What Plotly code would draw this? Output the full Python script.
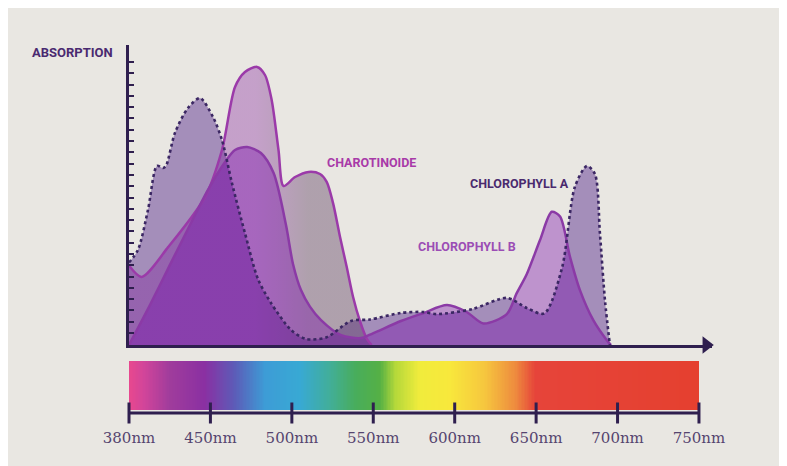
import numpy as np
import plotly.graph_objects as go

# ---------------- data ----------------
tick_nm = [380, 450, 500, 550, 600, 650, 700, 750]
tick_labels = ["380nm", "450nm", "500nm", "550nm", "600nm", "650nm", "700nm", "750nm"]

chl_a_nm = [380, 387.7, 396.3, 404.1, 409.2, 411.8, 419.5, 430.7, 441, 451.6, 457.1, 463.2,
            471.2, 479.2, 487.2, 499.5, 508.7, 521, 536.3, 548, 567, 580.5, 589.1, 611, 632,
            644.4, 655, 665.9, 673.8, 681.2, 686.1, 689.2, 692.3, 695.3]
chl_a_val = [27.5, 31.7, 45, 59.7, 59, 59.7, 70.7, 79, 82.3, 76, 68.3, 54,
             37.3, 22, 14, 5, 2, 2.5, 8, 8.5, 10.7, 11, 10.3, 12, 15.7,
             12.3, 10.5, 25.7, 52.7, 59.7, 57, 37, 14.7, 0]

carot_nm = [380, 390.9, 413.8, 445.3, 457.1, 465.1, 471.2, 478.6, 483.5, 487.6, 491.8, 494.9,
            502, 510.3, 517.3, 521.4, 525.3, 529.6, 533.7, 537.6, 541.8, 546.1, 549]
carot_val = [26.5, 22.7, 32.7, 49.3, 65, 86, 91, 92.7, 90, 81.7, 65, 53,
             56, 57.7, 57, 54.4, 47.3, 36, 26, 16, 8, 2, 0]

chl_b_nm = [380, 398, 415.2, 432.4, 447.9, 459, 465.1, 472.5, 481, 488.8, 496.4, 500.7,
            505.6, 511.1, 517.9, 530.2, 542.4, 549.8, 567, 580.5, 595.3, 607.3, 617.6, 632,
            638, 644.3, 652.4, 659.6, 664.7, 670.8, 676.9, 685.1, 693.3, 696]
chl_b_val = [0, 13.3, 26.7, 40, 51.7, 61, 65, 66, 64, 57.3, 40, 27,
             18.3, 12.8, 8.3, 3.3, 2.3, 3.9, 8, 10.6, 13.3, 11, 7.2, 10.3,
             17.2, 23.7, 35, 44.4, 42.8, 29.4, 18.3, 8.3, 1.7, 0]

spectrum_nm = [380, 392.6, 415, 445, 465, 483.5, 505, 523.5, 539, 554, 563.5, 578.5,
               597, 618.5, 637, 649.5, 750]
spectrum_colors = ["#e8488e", "#d2459a", "#a03c9c", "#8a30a2", "#5c5cb8", "#3d9cd6",
                   "#38a9d4", "#42ae98", "#48ad5c", "#55b045", "#b4d83a", "#f1ec3c",
                   "#f8e83c", "#f6c63e", "#ee8c3e", "#e6443a", "#e5402f"]

series_labels = ["ABSORPTION", "CHAROTINOIDE", "CHLOROPHYLL A", "CHLOROPHYLL B"]

# ---------------- helpers ----------------
tick_pos = list(range(len(tick_nm)))


def to_pos(nm):
    return np.interp(np.asarray(nm, dtype=float), tick_nm, tick_pos)


BG = "#e9e7e2"
AXIS = "#2f1f4f"
LABEL_FONT = "Roboto, Inter, sans-serif"

fig = go.Figure()

# spectrum bar
edges = np.linspace(0, 7, 401)
mids = (edges[:-1] + edges[1:]) / 2
stop_pos = to_pos(spectrum_nm) / 7.0
colorscale = [[float(p), c] for p, c in zip(stop_pos, spectrum_colors)]
fig.add_trace(go.Heatmap(
    x=edges, y=[3, 52], z=[mids], colorscale=colorscale, zmin=0, zmax=7,
    showscale=False, hoverinfo="skip", xaxis="x2", yaxis="y2"))

# fills
fig.add_trace(go.Scatter(
    x=to_pos(chl_a_nm), y=chl_a_val, mode="lines", fill="tozeroy",
    fillcolor="rgba(70,20,130,0.42)",
    line=dict(width=0, shape="spline", smoothing=0.8), hoverinfo="skip", showlegend=False))
fig.add_trace(go.Scatter(
    x=to_pos(carot_nm), y=carot_val, mode="lines", fill="tozeroy",
    fillgradient=dict(type="horizontal", start=1.55, stop=2.2,
                      colorscale=[[0, "rgba(120,10,150,0.32)"], [1, "rgba(80,45,85,0.38)"]]),
    line=dict(width=0, shape="spline", smoothing=0.8), hoverinfo="skip", showlegend=False))
fig.add_trace(go.Scatter(
    x=to_pos(chl_b_nm), y=chl_b_val, mode="lines", fill="tozeroy",
    fillcolor="rgba(115,0,170,0.36)",
    line=dict(width=0, shape="spline", smoothing=0.8), hoverinfo="skip", showlegend=False))

# outlines
fig.add_trace(go.Scatter(x=to_pos(carot_nm), y=carot_val, mode="lines",
                         line=dict(color="#9b3aa9", width=2.5, shape="spline", smoothing=0.8),
                         showlegend=False, hoverinfo="skip"))
fig.add_trace(go.Scatter(x=to_pos(chl_b_nm), y=chl_b_val, mode="lines",
                         line=dict(color="#8b3aa6", width=2.5, shape="spline", smoothing=0.8),
                         showlegend=False, hoverinfo="skip"))
fig.add_trace(go.Scatter(x=to_pos(chl_a_nm), y=chl_a_val, mode="lines",
                         line=dict(color="#3b2763", width=2.6, dash="dot", shape="spline", smoothing=0.8),
                         showlegend=False, hoverinfo="skip"))

# axis arrows
fig.add_trace(go.Scatter(x=[0], y=[100.3], mode="markers", cliponaxis=False,
                         marker=dict(symbol="triangle-up", size=15, color=AXIS),
                         showlegend=False, hoverinfo="skip"))
fig.add_trace(go.Scatter(x=[7.09], y=[0], mode="markers", cliponaxis=False,
                         marker=dict(symbol="triangle-right", size=15, color=AXIS),
                         showlegend=False, hoverinfo="skip"))

# wavelength scale line with crossing ticks
fig.add_trace(go.Scatter(x=tick_pos, y=[0] * len(tick_pos), mode="lines+markers",
                         cliponaxis=False, xaxis="x2", yaxis="y2",
                         line=dict(color=AXIS, width=3),
                         marker=dict(symbol="line-ns-open", size=15,
                                     line=dict(color=AXIS, width=3)),
                         showlegend=False, hoverinfo="skip"))

ytick_vals = list(np.arange(4, 95, 3.764))

fig.update_layout(
    width=779, height=458,
    margin=dict(l=121, r=75, t=37, b=49),
    paper_bgcolor=BG, plot_bgcolor=BG,
    showlegend=False,
    xaxis=dict(domain=[0, 1], range=[0, 7.16], anchor="y", showline=True,
               linecolor=AXIS, linewidth=3, showticklabels=False, ticks="",
               showgrid=False, zeroline=False, fixedrange=True),
    yaxis=dict(domain=[0.19355, 1], range=[0, 100], anchor="x", showline=True,
               linecolor=AXIS, linewidth=3, ticks="inside", ticklen=5, tickwidth=2,
               tickcolor=AXIS, tickvals=ytick_vals, showticklabels=False,
               showgrid=False, zeroline=False),
    xaxis2=dict(domain=[0, 1], range=[0, 7.16], anchor="y2", showline=False,
                ticks="", tickvals=tick_pos, ticktext=tick_labels,
                tickfont=dict(family="DejaVu Serif", size=15, color="#55446f"),
                ticklabelstandoff=10, showgrid=False, zeroline=False),
    yaxis2=dict(domain=[0, 0.15054], range=[-4, 52], anchor="x2", visible=False,
                showgrid=False, zeroline=False),
)

# label positions: (text, xref, x, yref, y, colour, size)
label_specs = [
    (series_labels[0], "paper", -0.0969, "paper", 0.981, "#4a2a70", 13),
    (series_labels[1], "x", 2.984, "y", 60.7, "#a83aa8", 12.5),
    (series_labels[2], "x", 4.796, "y", 53.7, "#4a2a6e", 12.5),
    (series_labels[3], "x", 4.151, "y", 33.0, "#9b4db5", 12.5),
]
for text, xr, x, yr, y, col, sz in label_specs:
    fig.add_annotation(x=x, y=y, xref=xr, yref=yr, text=text, showarrow=False,
                       font=dict(family=LABEL_FONT, size=sz, color=col, weight="bold"),
                       xanchor="center", yanchor="middle")

fig.write_html("out.html")
